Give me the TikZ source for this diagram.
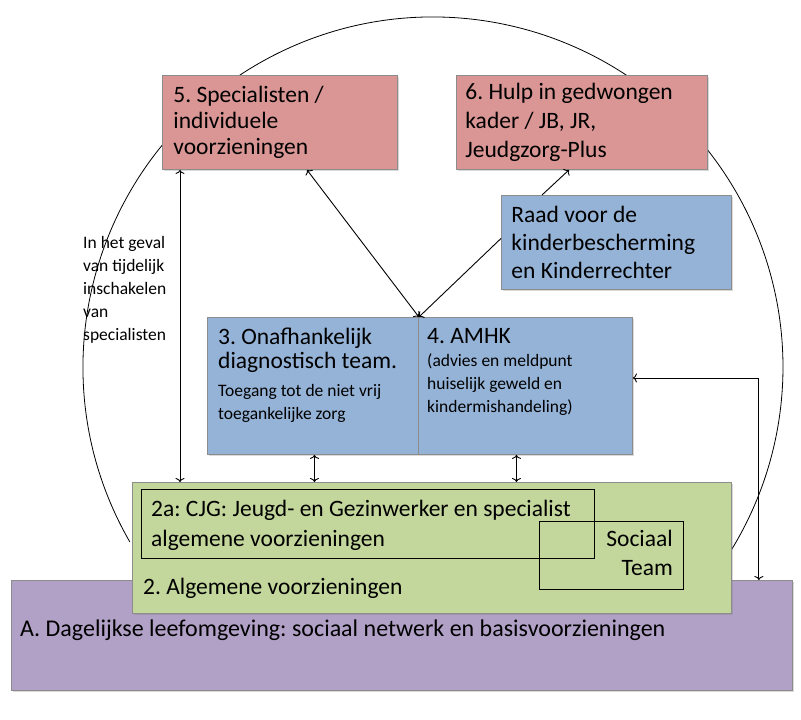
\documentclass[tikz,border=0pt]{standalone}
\usepackage{fontspec}
\setmainfont{Carlito}
\usetikzlibrary{shadows,arrows.meta}
\frenchspacing

\definecolor{rozebox}{HTML}{D99694}
\definecolor{blauwbox}{HTML}{95B3D7}
\definecolor{groenbox}{HTML}{C3D69B}
\definecolor{paarsbox}{HTML}{B2A1C7}
\definecolor{randgrijs}{HTML}{8C8C8C}

\tikzset{
  vlak/.style={draw=randgrijs, line width=0.9pt, anchor=north west, inner sep=0pt,
    drop shadow={opacity=0.3, shadow xshift=1.5pt, shadow yshift=-1.5pt}},
  kader/.style={draw=black, line width=0.9pt, anchor=north west, inner sep=0pt},
  tekst/.style={anchor=north west, inner sep=0pt, align=left},
  groot/.style={font=\fontsize{23.5}{26}\selectfont},
  klein/.style={font=\fontsize{17.5}{23}\selectfont},
  pijl/.style={line width=0.9pt},
}

\begin{document}
\begin{tikzpicture}[x=1pt,y=-1pt,>={To[length=4pt,width=9pt]}]
\useasboundingbox (0,0) rectangle (801,720);

% grote cirkel achter de blokken
\coordinate (midden) at (433,367);
\draw[line width=0.8pt] (midden) ++(150:350) arc[start angle=150, end angle=391.5, radius=350];

% basis
\node[vlak, fill=paarsbox, minimum width=781, minimum height=110] (dag) at (11,580) {};
\node[vlak, fill=groenbox, minimum width=599, minimum height=131] (alg) at (132,482) {};
\node[kader, minimum width=453, minimum height=69] (cjg) at (141,489) {};
\node[kader, minimum width=144, minimum height=68] (soc) at (539,521) {};

% bovenste blokken
\node[vlak, fill=rozebox, minimum width=235, minimum height=94, inner xsep=11pt,
  text width=213, align=flush left, groot] (spec) at (162,75)
  {5. Specialisten /\\individuele\\voorzieningen};
\node[vlak, fill=rozebox, minimum width=251, minimum height=94, inner xsep=9pt,
  text width=233, align=flush left, font=\fontsize{23.5}{29}\selectfont] (hulp) at (456,75)
  {6. Hulp in gedwongen\\kader / JB, JR,\\Jeudgzorg-Plus};
\node[vlak, fill=blauwbox, minimum width=230, minimum height=94, inner xsep=10pt,
  text width=210, align=flush left, font=\fontsize{23.5}{28}\selectfont] (raad) at (501,195)
  {Raad voor de\\kinderbescherming\\en Kinderrechter};

% midden
\node[vlak, fill=blauwbox, minimum width=211, minimum height=137] (onaf) at (207,317) {};
\node[vlak, fill=blauwbox, minimum width=214, minimum height=137] (amhk) at (418,317) {};

% teksten
\node[tekst, font=\fontsize{23.5}{24}\selectfont] (onaftitel) at (218,328) {3. Onafhankelijk\\diagnostisch team.};
\node[tekst, klein] (onafsub) at (218,384) {Toegang tot de niet vrij\\toegankelijke zorg};
\node[tekst, groot] (amhktitel) at (427,328) {4. AMHK};
\node[tekst, klein] (amhksub) at (427,354) {(advies en meldpunt\\huiselijk geweld en\\kindermishandeling)};
\node[tekst, font=\fontsize{23.5}{30}\selectfont] (cjgtekst) at (151,500) {2a: CJG: Jeugd- en Gezinwerker en specialist\\algemene voorzieningen};
\node[anchor=north east, inner sep=0pt, align=right, font=\fontsize{23.5}{29}\selectfont] (soctekst) at (673,530) {Sociaal\\Team};
\node[tekst, groot] (algtekst) at (143,578) {2. Algemene voorzieningen};
\node[tekst, font=\fontsize{24}{26}\selectfont] (dagtekst) at (20,620) {A. Dagelijkse leefomgeving: sociaal netwerk en basisvoorzieningen};
\node[tekst, klein] (geval) at (83,236) {In het geval\\van tijdelijk\\inschakelen\\van\\specialisten};

% pijlen
\draw[pijl, <->] ([xshift=18pt]spec.south west) -- ([xshift=18pt]spec.south west |- alg.north);
\draw[pijl, <->] ([xshift=145pt]spec.south west) -- (onaf.north east);
\draw[pijl, ->] ([yshift=4pt]raad.west) -- (onaf.north east);
\draw[pijl, ->] ([xshift=41pt]raad.north west) -- ([xshift=113pt]hulp.south west);
\foreach \blok/\dx in {onaf/1.5,amhk/-9}
  \draw[pijl, <->] ([xshift=\dx pt]\blok.south) -- ([xshift=\dx pt]\blok.south |- alg.north);
\draw[pijl, <->] ([yshift=8pt]amhk.east) -| ([xshift=-34pt]dag.north east);
\end{tikzpicture}
\end{document}
